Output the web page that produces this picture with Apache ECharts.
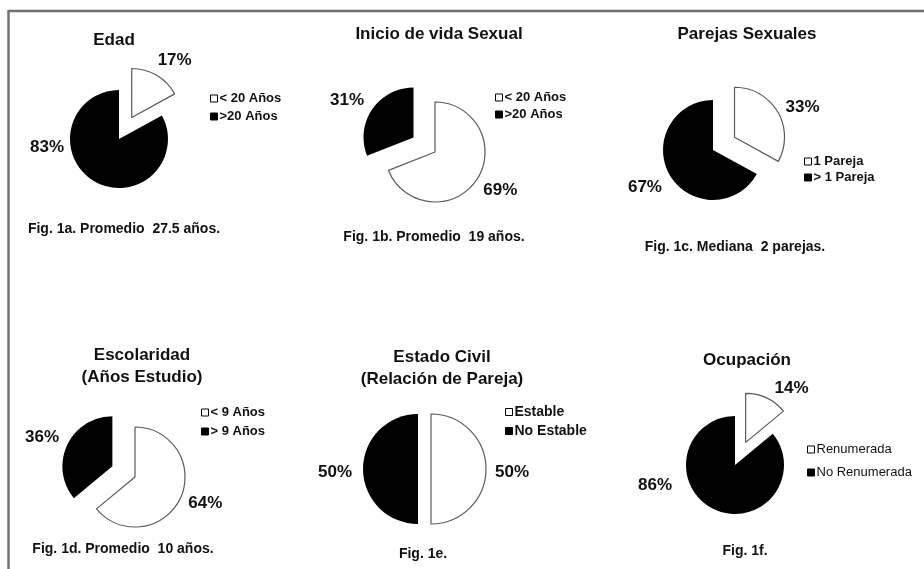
<!DOCTYPE html>
<html>
<head>
<meta charset="utf-8">
<script src="https://cdn.jsdelivr.net/npm/echarts@6/dist/echarts.min.js"></script>
<style>
html,body{margin:0;padding:0;background:#fff;}
#main{width:924px;height:569px;}
</style>
</head>
<body>
<div id="main"></div>
<script>
// ---- data ----
const edadCats = ['< 20 Años', '>20 Años'];
const edadVals = [17, 83];
const inicioCats = ['< 20 Años', '>20 Años'];
const inicioVals = [69, 31];
const parejasCats = ['1 Pareja', '> 1 Pareja'];
const parejasVals = [33, 67];
const escolaridadCats = ['< 9 Años', '> 9 Años'];
const escolaridadVals = [64, 36];
const civilCats = ['Estable', 'No Estable'];
const civilVals = [50, 50];
const ocupacionCats = ['Renumerada', 'No Renumerada'];
const ocupacionVals = [14, 86];

const titles = ['Edad', 'Inicio de vida Sexual', 'Parejas Sexuales',
  'Escolaridad\n(Años Estudio)', 'Estado Civil\n(Relación de Pareja)', 'Ocupación'];
const captions = ['Fig. 1a. Promedio  27.5 años.', 'Fig. 1b. Promedio  19 años.',
  'Fig. 1c. Mediana  2 parejas.', 'Fig. 1d. Promedio  10 años.', 'Fig. 1e.', 'Fig. 1f.'];

const allCats = [edadCats, inicioCats, parejasCats, escolaridadCats, civilCats, ocupacionCats];
const allVals = [edadVals, inicioVals, parejasVals, escolaridadVals, civilVals, ocupacionVals];

// ---- layout / style ----
const FONT = '"Liberation Sans", Arial, Helvetica, sans-serif';
const pieCenters = [[119,139],[435,152],[713,150],[135,477],[418,469],[735,465]];
const pieRadius = [49, 50, 50, 50, 55, 49];
const explodedIndex = [0, 1, 0, 1, 0, 0];
const explodeOffset = [25, 26, 25, 25, 13, 25];
const labelNudge = [
  [[1,-15],[-30,-34]],
  [[7,10],[-8,-9]],
  [[8,-5],[-8,12]],
  [[8,5],[-8,-8]],
  [[9,3],[-11,3]],
  [[8,-10],[-42,-24]]
];
const titlePos = [[114,29],[439,23],[747,23],[142,344],[442,346],[747,349]];
const captionPos = [[124,230],[434,238],[735,248],[123,550],[423,555],[745,552]];
const legendPos = [[210,92],[495,91],[804,155],[201,406],[505,405],[807,443]];
const legendGap = [5, 4, 3, 6, 5, 10];
const legendFont = [
  {fontSize:13, fontWeight:'bold'}, {fontSize:13, fontWeight:'bold'}, {fontSize:13, fontWeight:'bold'},
  {fontSize:13, fontWeight:'bold'}, {fontSize:14, fontWeight:'bold'}, {fontSize:13, fontWeight:'normal'}
];
const sliceStyles = [
  {color:'#ffffff', borderColor:'#5a5a5a', borderWidth:1.2},
  {color:'#000000', borderColor:'#000000', borderWidth:0}
];

const chart = echarts.init(document.getElementById('main'), null, {renderer:'canvas'});

const title = [];
titles.forEach((t, i) => {
  title.push({text: t, left: titlePos[i][0], top: titlePos[i][1], textAlign:'center', padding:0,
    textStyle:{fontFamily:FONT, fontSize:17, fontWeight:'bold', color:'#111', lineHeight:22}});
});
captions.forEach((t, i) => {
  title.push({text: t, left: captionPos[i][0], top: captionPos[i][1] - 8, textAlign:'center', padding:0,
    textStyle:{fontFamily:FONT, fontSize:14, fontWeight:'bold', color:'#111'}});
});

const legend = allCats.map((cats, i) => ({
  data: cats, orient:'vertical', left: legendPos[i][0], top: legendPos[i][1],
  itemWidth:7, itemHeight:7, itemGap: legendGap[i], icon:'rect', padding:0, selectedMode:false,
  itemStyle:{borderColor:'#000', borderWidth:1},
  textStyle:{fontFamily:FONT, color:'#111', fontSize:legendFont[i].fontSize, fontWeight:legendFont[i].fontWeight, padding:[0,0,0,-3]}
}));

const series = allVals.map((vals, i) => ({
  type:'pie',
  center: pieCenters[i],
  radius: pieRadius[i],
  startAngle: 90,
  clockwise: true,
  selectedMode:'single',
  selectedOffset: explodeOffset[i],
  avoidLabelOverlap:false,
  animation:false,
  emphasis:{disabled:true, scale:false},
  label:{show:true, position:'outside', formatter:'{c}%', fontFamily:FONT, fontSize:17, fontWeight:'bold', color:'#111', distanceToLabelLine:0},
  labelLine:{show:false, length:0, length2:0},
  labelLayout: function (p) {
    const n = labelNudge[i][p.dataIndex];
    return {dx: n[0], dy: n[1]};
  },
  data: vals.map((v, k) => ({
    name: allCats[i][k], value: v, selected: k === explodedIndex[i],
    itemStyle: sliceStyles[k], select:{itemStyle: sliceStyles[k]}
  }))
}));

chart.setOption({
  backgroundColor:'#ffffff',
  animation:false,
  title: title,
  legend: legend,
  series: series,
  graphic: [
    {type:'line', shape:{x1:8, y1:11, x2:924, y2:11}, style:{stroke:'#707070', lineWidth:2.5}},
    {type:'line', shape:{x1:8.5, y1:10, x2:8.5, y2:569}, style:{stroke:'#707070', lineWidth:2.5}}
  ]
});
</script>
</body>
</html>
